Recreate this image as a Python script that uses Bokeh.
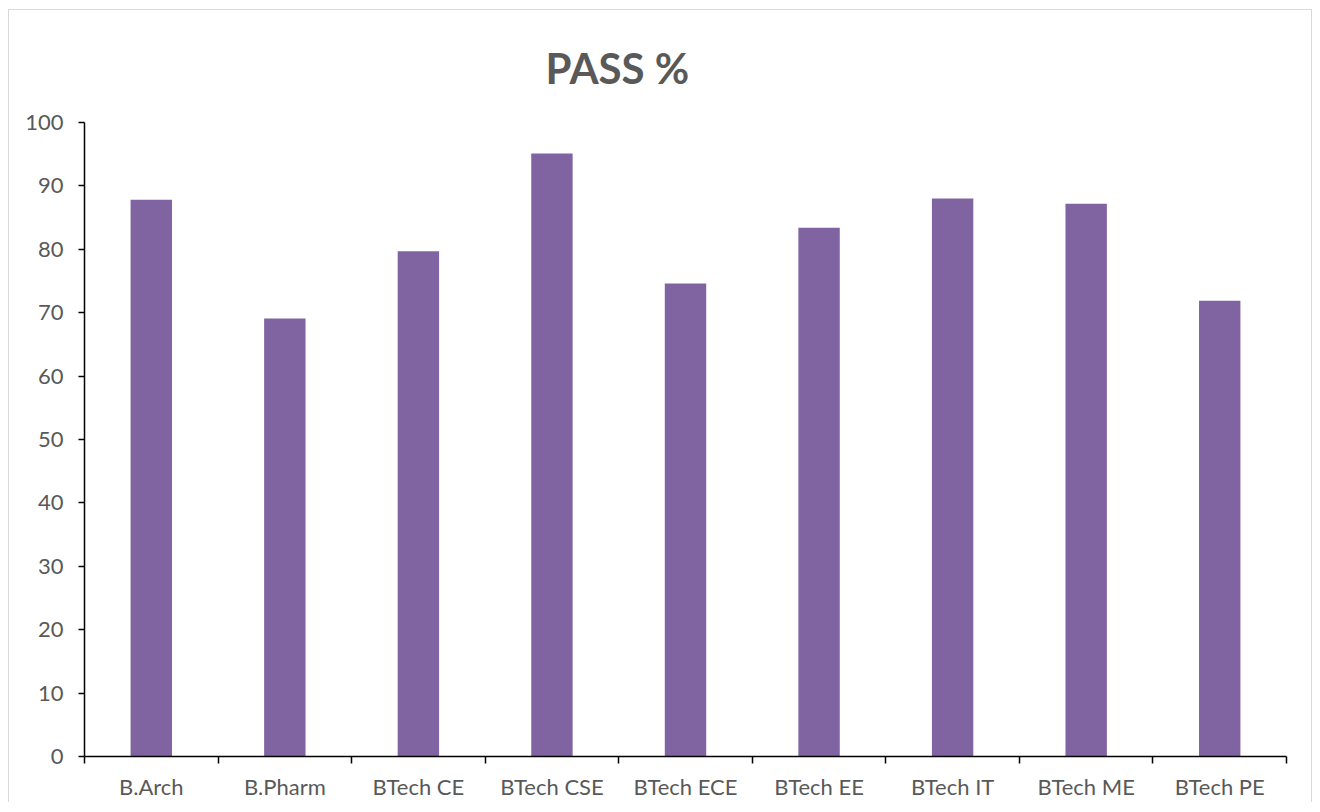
from bokeh.plotting import figure
from bokeh.models import FixedTicker, Range1d, ColumnDataSource, Column
from bokeh.embed import file_html
from bokeh.resources import INLINE

categories = ["B.Arch", "B.Pharm", "BTech CE", "BTech CSE", "BTech ECE",
              "BTech EE", "BTech IT", "BTech ME", "BTech PE"]
pass_pct = [87.8, 69.1, 79.7, 95.1, 74.6, 83.4, 88.0, 87.2, 71.9]
y_ticks = [0, 10, 20, 30, 40, 50, 60, 70, 80, 90, 100]

xs = [i + 0.5 for i in range(len(categories))]
src = ColumnDataSource(data=dict(x=xs, top=pass_pct, cat=categories))

W, H = 1302, 792
p = figure(width=W, height=H, output_backend="svg", toolbar_location=None,
           x_range=Range1d(0, len(categories)), y_range=Range1d(0, 100),
           min_border_left=75, min_border_right=25, min_border_top=112,
           min_border_bottom=46)

p.vbar(x="x", top="top", width=0.31, source=src, fill_color="#8064A2", line_color=None)

p.xgrid.visible = False
p.ygrid.visible = False
p.outline_line_color = None

lbl_col = "#595959"
xa = p.xaxis[0]
xa.ticker = FixedTicker(ticks=xs, minor_ticks=list(range(len(categories) + 1)))
xa.major_label_overrides = {x: c for x, c in zip(xs, categories)}
xa.major_tick_line_color = None
xa.major_tick_out = 0
xa.major_tick_in = 0
xa.minor_tick_out = 7
xa.minor_tick_in = 0
xa.minor_tick_line_color = "black"
xa.axis_line_color = "black"
xa.axis_line_width = 1.5
xa.minor_tick_line_width = 1.5
xa.major_label_standoff = 9
xa.major_label_text_font = "Lato"
xa.major_label_text_font_size = "22px"
xa.major_label_text_color = lbl_col

ya = p.yaxis[0]
ya.ticker = FixedTicker(ticks=y_ticks)
ya.minor_tick_line_color = None
ya.major_tick_out = 6
ya.major_tick_in = 0
ya.major_tick_line_color = "black"
ya.major_tick_line_width = 1.5
ya.axis_line_color = "black"
ya.axis_line_width = 1.5
ya.major_label_standoff = 15
ya.major_label_text_font = "Lato"
ya.major_label_text_font_size = "22px"
ya.major_label_text_color = lbl_col

p.title.text = "PASS %"
p.title.text_font = "Lato"
p.title.text_font_size = "42px"
p.title.text_font_style = "bold"
p.title.text_color = lbl_col
p.title.align = "left"
p.title.offset = 461
p.title.standoff = 55
p.title.vertical_align = "top"

border = "1px solid #d9d9d9"
inner = Column(children=[p], styles={"border-top": border, "border-left": border,
                                     "border-right": border})
outer = Column(children=[inner], styles={"padding-top": "9px", "padding-left": "8px"})

open("out.html", "w").write(file_html(outer, INLINE))
